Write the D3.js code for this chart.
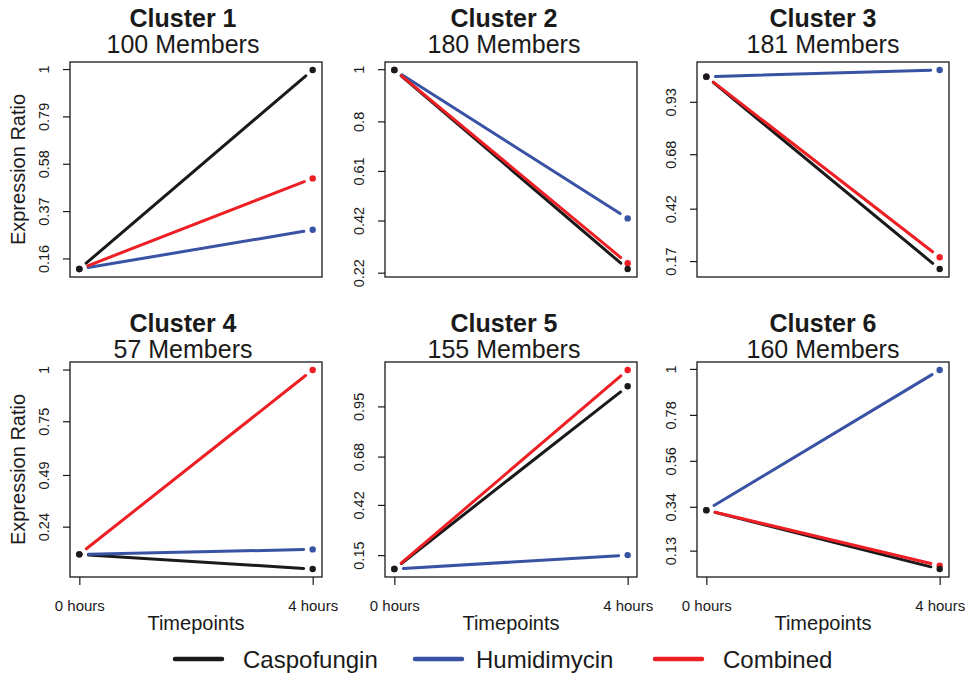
<!DOCTYPE html>
<html>
<head>
<meta charset="utf-8">
<script src="https://cdn.jsdelivr.net/npm/d3@7"></script>
<style>
  body { margin: 0; background: #fff; }
  svg { display: block; font-family: "Liberation Sans", Arial, sans-serif; }
</style>
</head>
<body>
<div id="chart"></div>
<script>
// data
const clusters = ["Cluster 1", "Cluster 2", "Cluster 3", "Cluster 4", "Cluster 5", "Cluster 6"];
const members = [100, 180, 181, 57, 155, 160];
const timepoints = ["0 hours", "4 hours"];
const series = ["Caspofungin", "Humidimycin", "Combined"];

// value at 0 hours (same for all three treatments)
const start0h = [0.113, 0.997, 1.05, 0.106, 0.075, 0.324];
// values at 4 hours
const caspo4h = [0.996, 0.234, 0.132, 0.035, 1.058, 0.042];
const humi4h  = [0.287, 0.428, 1.082, 0.130, 0.150, 0.995];
const comb4h  = [0.515, 0.256, 0.188, 0.998, 1.146, 0.0585];

// y tick labels per cluster
const yTicks = [
  [0.16, 0.37, 0.58, 0.79, 1],
  [0.22, 0.42, 0.61, 0.8, 1],
  [0.17, 0.42, 0.68, 0.93],
  [0.24, 0.49, 0.75, 1],
  [0.15, 0.42, 0.68, 0.95],
  [0.13, 0.34, 0.56, 0.78, 1]
];

const colors = ["#1a1a1a", "#3953a4", "#ed1f24"];
const ends = [caspo4h, humi4h, comb4h];

// layout
const width = 968, height = 677;
const boxLeft = [70, 385, 697];
const boxTop = [62, 362];
const boxW = 252, boxH = 215;
const titleX = [183, 504, 823];
const title1Y = [26.5, 332];
const title2Y = [53, 357.5];
const gap = 9; // R type="b" gap round the points

const svg = d3.select("#chart").append("svg")
    .attr("width", width)
    .attr("height", height);

clusters.forEach((name, i) => {
    const col = i % 3, row = Math.floor(i / 3);
    const left = boxLeft[col], top = boxTop[row];

    const vals = [start0h[i], caspo4h[i], humi4h[i], comb4h[i]];
    const [lo, hi] = d3.extent(vals);
    const pad = (hi - lo) * 0.04;

    const x = d3.scaleLinear().domain([-0.04, 1.04]).range([left, left + boxW]);
    const y = d3.scaleLinear().domain([lo - pad, hi + pad]).range([top + boxH, top]);

    const g = svg.append("g");

    // lines (shortened at both ends)
    series.forEach((s, k) => {
        const x0 = x(0), y0 = y(start0h[i]);
        const x1 = x(1), y1 = y(ends[k][i]);
        const len = Math.hypot(x1 - x0, y1 - y0);
        const ux = (x1 - x0) / len, uy = (y1 - y0) / len;
        g.append("line")
            .attr("x1", x0 + ux * gap).attr("y1", y0 + uy * gap)
            .attr("x2", x1 - ux * gap).attr("y2", y1 - uy * gap)
            .attr("stroke", colors[k])
            .attr("stroke-width", 3)
            .attr("stroke-linecap", "round");
    });

    // points, black last so it sits on top
    [2, 1, 0].forEach(k => {
        g.selectAll(null)
            .data([start0h[i], ends[k][i]])
            .enter().append("circle")
            .attr("cx", (d, j) => x(j))
            .attr("cy", d => y(d))
            .attr("r", 3.2)
            .attr("fill", colors[k]);
    });

    // box
    g.append("rect")
        .attr("x", left).attr("y", top)
        .attr("width", boxW).attr("height", boxH)
        .attr("fill", "none")
        .attr("stroke", "#1a1a1a")
        .attr("stroke-width", 1.3);

    // y axis
    const yAxis = g.append("g")
        .attr("transform", `translate(${left},0)`)
        .call(d3.axisLeft(y).tickValues(yTicks[i]).tickSize(7).tickFormat(String));
    yAxis.select(".domain").remove();
    yAxis.selectAll(".tick line").attr("stroke", "#1a1a1a").attr("stroke-width", 1.2);
    yAxis.selectAll(".tick text")
        .attr("transform", "rotate(-90)")
        .attr("x", 0).attr("y", -21.5).attr("dy", 0)
        .attr("text-anchor", "middle")
        .attr("font-size", 14.5)
        .attr("fill", "#1a1a1a");

    // x axis only on the bottom row
    if (row === 1) {
        const xAxis = g.append("g")
            .attr("transform", `translate(0,${top + boxH})`)
            .call(d3.axisBottom(x).tickValues([0, 1]).tickSize(8).tickFormat((d, j) => timepoints[j]));
        xAxis.select(".domain").remove();
        xAxis.selectAll(".tick line").attr("stroke", "#1a1a1a").attr("stroke-width", 1.2);
        xAxis.selectAll(".tick text")
            .attr("y", 34).attr("dy", 0)
            .attr("font-size", 15)
            .attr("fill", "#1a1a1a");

        g.append("text")
            .attr("x", left + boxW / 2).attr("y", 630)
            .attr("text-anchor", "middle")
            .attr("font-size", 20)
            .attr("fill", "#1a1a1a")
            .text("Timepoints");
    }

    // y label on the first column
    if (col === 0) {
        g.append("text")
            .attr("transform", `translate(25,${top + boxH / 2}) rotate(-90)`)
            .attr("text-anchor", "middle")
            .attr("font-size", 20)
            .attr("fill", "#1a1a1a")
            .text("Expression Ratio");
    }

    // titles
    g.append("text")
        .attr("x", titleX[col]).attr("y", title1Y[row])
        .attr("text-anchor", "middle")
        .attr("font-size", 25)
        .attr("font-weight", "bold")
        .attr("fill", "#1a1a1a")
        .text(name);
    g.append("text")
        .attr("x", titleX[col]).attr("y", title2Y[row])
        .attr("text-anchor", "middle")
        .attr("font-size", 25)
        .attr("fill", "#1a1a1a")
        .text(`${members[i]} Members`);
});

// legend
const legendLineX = [175, 415, 655];
const legendTextX = [243, 476, 723];
const legend = svg.append("g");
series.forEach((s, k) => {
    legend.append("line")
        .attr("x1", legendLineX[k]).attr("x2", legendLineX[k] + 47)
        .attr("y1", 659).attr("y2", 659)
        .attr("stroke", colors[k])
        .attr("stroke-width", 4.5)
        .attr("stroke-linecap", "round");
    legend.append("text")
        .attr("x", legendTextX[k]).attr("y", 667.5)
        .attr("font-size", 24)
        .attr("fill", "#1a1a1a")
        .text(s);
});
</script>
</body>
</html>
